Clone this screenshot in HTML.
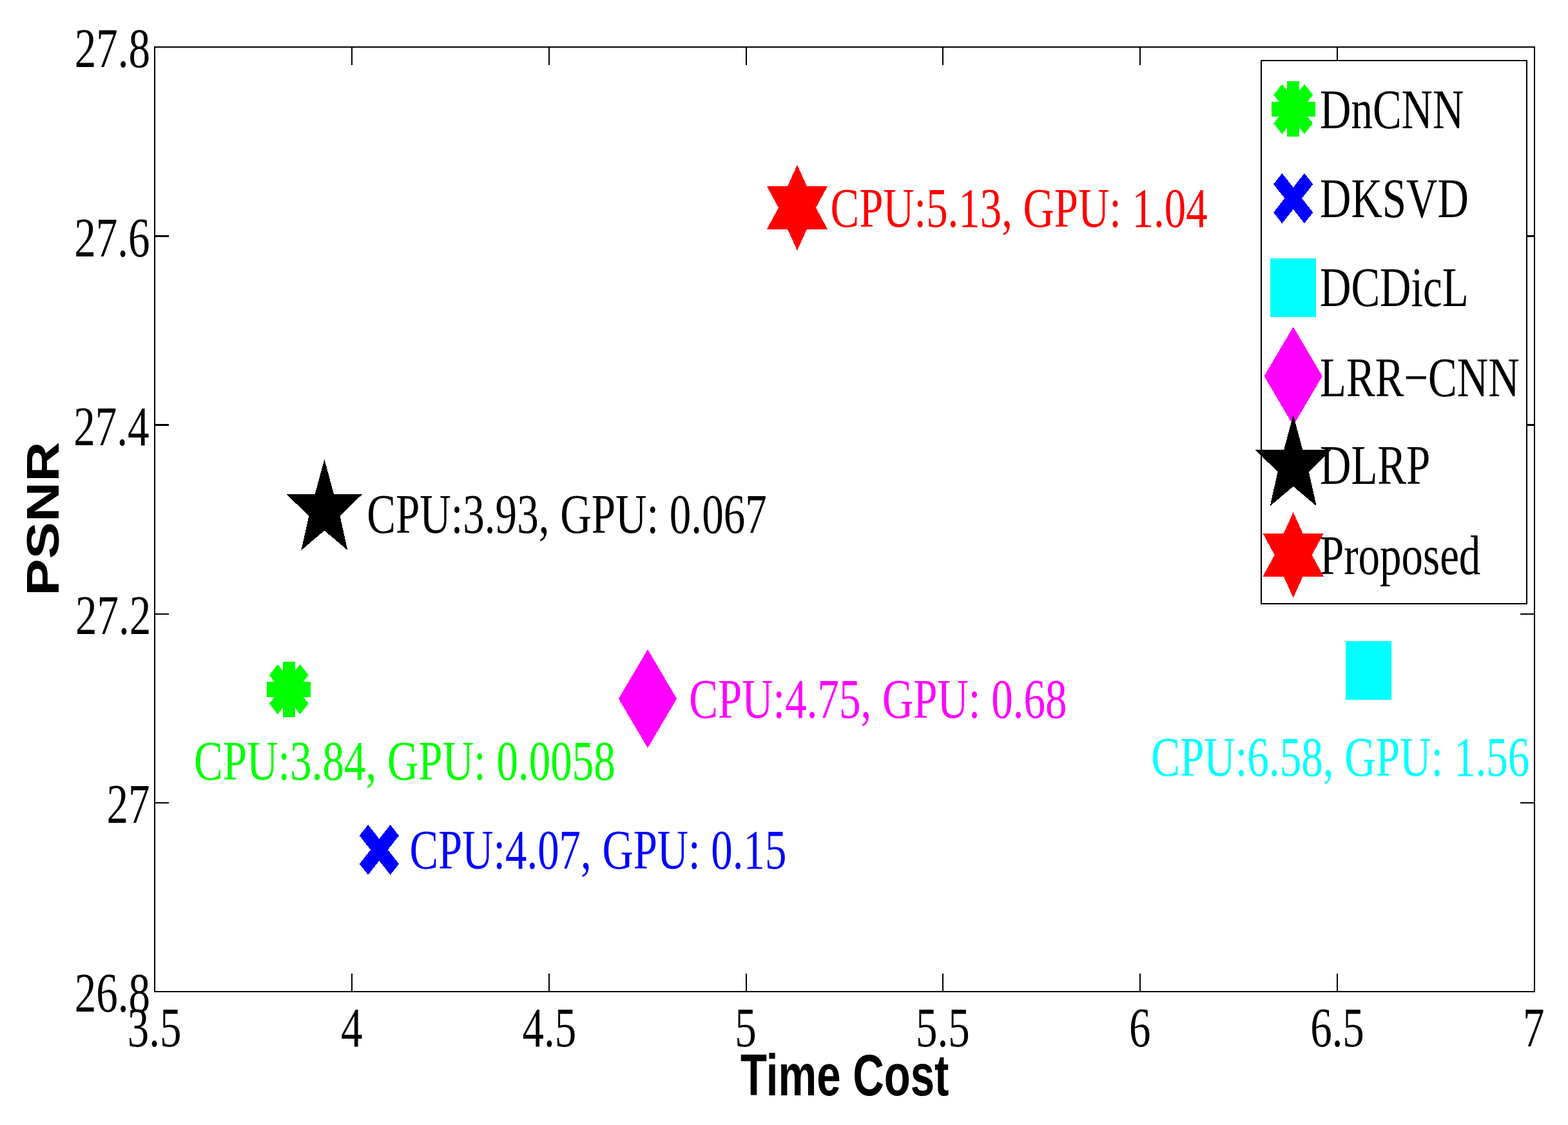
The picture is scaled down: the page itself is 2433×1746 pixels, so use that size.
<!DOCTYPE html>
<html><head><meta charset="utf-8"><title>PSNR vs Time Cost</title>
<style>html,body{margin:0;padding:0;background:#fff;}svg{display:block;}</style></head>
<body><svg width="2433" height="1746" viewBox="0 0 2433 1746">
<rect width="2433" height="1746" fill="#fff"/>
<rect x="240" y="73" width="2141" height="1466" fill="none" stroke="#000" stroke-width="2"/>
<path d="M240,73V101M240,1539V1511M546,73V101M546,1539V1511M852,73V101M852,1539V1511M1158,73V101M1158,1539V1511M1463,73V101M1463,1539V1511M1769,73V101M1769,1539V1511M2075,73V101M2075,1539V1511M2381,73V101M2381,1539V1511M240,1539H262M2381,1539H2359M240,1246H262M2381,1246H2359M240,953H262M2381,953H2359M240,73H262M2381,73H2359" stroke="#000" stroke-width="2" fill="none"/>
<path d="M240,659.5H262M2381,659.5H2359M240,366.5H262M2381,366.5H2359" stroke="#000" stroke-width="3" fill="none"/>
<text transform="translate(115.81,104.30) scale(0.7700,1)" style="font-family:'Liberation Serif',serif;font-size:87px" fill="#000">27.8</text>
<text transform="translate(115.28,397.50) scale(0.7700,1)" style="font-family:'Liberation Serif',serif;font-size:87px" fill="#000">27.6</text>
<text transform="translate(114.34,690.70) scale(0.7700,1)" style="font-family:'Liberation Serif',serif;font-size:87px" fill="#000">27.4</text>
<text transform="translate(116.95,983.90) scale(0.7700,1)" style="font-family:'Liberation Serif',serif;font-size:87px" fill="#000">27.2</text>
<text transform="translate(165.45,1277.10) scale(0.7700,1)" style="font-family:'Liberation Serif',serif;font-size:87px" fill="#000">27</text>
<text transform="translate(115.81,1570.30) scale(0.7700,1)" style="font-family:'Liberation Serif',serif;font-size:87px" fill="#000">26.8</text>
<text transform="translate(197.83,1623.70) scale(0.7700,1)" style="font-family:'Liberation Serif',serif;font-size:87px" fill="#000">3.5</text>
<text transform="translate(528.98,1623.70) scale(0.7700,1)" style="font-family:'Liberation Serif',serif;font-size:87px" fill="#000">4</text>
<text transform="translate(810.48,1623.70) scale(0.7700,1)" style="font-family:'Liberation Serif',serif;font-size:87px" fill="#000">4.5</text>
<text transform="translate(1140.19,1623.70) scale(0.7700,1)" style="font-family:'Liberation Serif',serif;font-size:87px" fill="#000">5</text>
<text transform="translate(1420.92,1623.70) scale(0.7700,1)" style="font-family:'Liberation Serif',serif;font-size:87px" fill="#000">5.5</text>
<text transform="translate(1752.10,1623.70) scale(0.7700,1)" style="font-family:'Liberation Serif',serif;font-size:87px" fill="#000">6</text>
<text transform="translate(2033.14,1623.70) scale(0.7700,1)" style="font-family:'Liberation Serif',serif;font-size:87px" fill="#000">6.5</text>
<text transform="translate(2363.01,1623.70) scale(0.7700,1)" style="font-family:'Liberation Serif',serif;font-size:87px" fill="#000">7</text>
<text transform="translate(1149.06,1700.20) scale(0.7462,1)" style="font-family:'Liberation Sans',sans-serif;font-weight:bold;font-size:90px" fill="#000">Time Cost</text>
<text transform="translate(91.10,924.77) scale(0.8107,1) rotate(-90)" style="font-family:'Liberation Sans',sans-serif;font-weight:bold;font-size:86.06px" fill="#000">PSNR</text>
<g transform="translate(448.3,1069.9) scale(0.787,1)" stroke="#00ff00" stroke-width="23.5" stroke-linecap="butt" shape-rendering="crispEdges"><line x1="-43.00" y1="-0.00" x2="43.00" y2="0.00"/><line x1="-30.41" y1="-30.41" x2="30.41" y2="30.41"/><line x1="-0.00" y1="-43.00" x2="0.00" y2="43.00"/><line x1="30.41" y1="-30.41" x2="-30.41" y2="30.41"/></g>
<g transform="translate(588.4,1318.9) scale(0.787,1)" stroke="#0000ff" stroke-width="24" stroke-linecap="butt" shape-rendering="crispEdges"><line x1="-30.41" y1="-30.41" x2="30.41" y2="30.41"/><line x1="30.41" y1="-30.41" x2="-30.41" y2="30.41"/></g>
<rect x="2088.05" y="995.25" width="70.9" height="90.3" fill="#00ffff" shape-rendering="crispEdges"/>
<polygon points="1005.00,1007.80 1050.10,1084.40 1005.00,1161.00 959.90,1084.40" fill="#ff00ff" shape-rendering="crispEdges"/>
<polygon points="503.40,712.70 517.90,766.50 562.60,766.50 527.50,800.90 539.40,854.00 503.40,823.50 467.40,854.00 479.30,800.90 444.20,766.50 488.90,766.50" fill="#000" shape-rendering="crispEdges"/>
<polygon points="1237.00,255.85 1252.00,289.15 1284.00,289.15 1266.00,322.35 1284.00,355.55 1252.00,355.55 1237.00,388.85 1222.00,355.55 1190.00,355.55 1208.00,322.35 1190.00,289.15 1222.00,289.15" fill="#ff0000" shape-rendering="crispEdges"/>
<text transform="translate(1288.56,351.90) scale(0.7684,1)" style="font-family:'Liberation Serif',serif;font-size:87px" fill="#ff0000">CPU:5.13, GPU: 1.04</text>
<text transform="translate(569.15,827.40) scale(0.7712,1)" style="font-family:'Liberation Serif',serif;font-size:87px" fill="#000">CPU:3.93, GPU: 0.067</text>
<text transform="translate(301.05,1210.00) scale(0.7708,1)" style="font-family:'Liberation Serif',serif;font-size:87px" fill="#00ff00">CPU:3.84, GPU: 0.0058</text>
<text transform="translate(1069.35,1114.00) scale(0.7698,1)" style="font-family:'Liberation Serif',serif;font-size:87px" fill="#ff00ff">CPU:4.75, GPU: 0.68</text>
<text transform="translate(1786.15,1203.60) scale(0.7714,1)" style="font-family:'Liberation Serif',serif;font-size:87px" fill="#00ffff">CPU:6.58, GPU: 1.56</text>
<text transform="translate(635.46,1347.50) scale(0.7683,1)" style="font-family:'Liberation Serif',serif;font-size:87px" fill="#0000ff">CPU:4.07, GPU: 0.15</text>
<rect x="1957" y="94" width="412" height="843" fill="#fff" stroke="#000" stroke-width="2"/>
<g transform="translate(2006.7,169.35) scale(0.787,1)" stroke="#00ff00" stroke-width="23.5" stroke-linecap="butt" shape-rendering="crispEdges"><line x1="-43.00" y1="-0.00" x2="43.00" y2="0.00"/><line x1="-30.41" y1="-30.41" x2="30.41" y2="30.41"/><line x1="-0.00" y1="-43.00" x2="0.00" y2="43.00"/><line x1="30.41" y1="-30.41" x2="-30.41" y2="30.41"/></g>
<g transform="translate(2006.7,307.8) scale(0.787,1)" stroke="#0000ff" stroke-width="24" stroke-linecap="butt" shape-rendering="crispEdges"><line x1="-30.41" y1="-30.41" x2="30.41" y2="30.41"/><line x1="30.41" y1="-30.41" x2="-30.41" y2="30.41"/></g>
<rect x="1971.25" y="401.25" width="70.9" height="90.3" fill="#00ffff" shape-rendering="crispEdges"/>
<polygon points="2006.70,507.20 2051.80,583.80 2006.70,660.40 1961.60,583.80" fill="#ff00ff" shape-rendering="crispEdges"/>
<polygon points="2006.70,644.10 2021.20,697.90 2065.90,697.90 2030.80,732.30 2042.70,785.40 2006.70,754.90 1970.70,785.40 1982.60,732.30 1947.50,697.90 1992.20,697.90" fill="#000" shape-rendering="crispEdges"/>
<polygon points="2006.70,794.85 2021.70,828.15 2053.70,828.15 2035.70,861.35 2053.70,894.55 2021.70,894.55 2006.70,927.85 1991.70,894.55 1959.70,894.55 1977.70,861.35 1959.70,828.15 1991.70,828.15" fill="#ff0000" shape-rendering="crispEdges"/>
<text transform="translate(2048.06,199.20) scale(0.7700,1)" style="font-family:'Liberation Serif',serif;font-size:87px" fill="#000">DnCNN</text>
<text transform="translate(2048.06,336.70) scale(0.7700,1)" style="font-family:'Liberation Serif',serif;font-size:87px" fill="#000">DKSVD</text>
<text transform="translate(2048.06,475.30) scale(0.7700,1)" style="font-family:'Liberation Serif',serif;font-size:87px" fill="#000">DCDicL</text>
<text transform="translate(2048.06,614.80) scale(0.7700,1)" style="font-family:'Liberation Serif',serif;font-size:87px" fill="#000">LRR−CNN</text>
<text transform="translate(2048.06,751.30) scale(0.7700,1)" style="font-family:'Liberation Serif',serif;font-size:87px" fill="#000">DLRP</text>
<text transform="translate(2048.06,890.50) scale(0.7700,1)" style="font-family:'Liberation Serif',serif;font-size:87px" fill="#000">Proposed</text>
</svg></body></html>
